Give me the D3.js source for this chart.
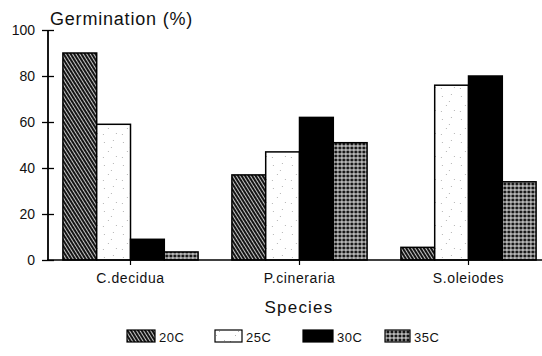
<!DOCTYPE html>
<html><head><meta charset="utf-8">
<script src="https://cdn.jsdelivr.net/npm/d3@7/dist/d3.min.js"></script>
<style>html,body{margin:0;padding:0;background:#fff}svg{display:block}text{font-family:"Liberation Sans",Arial,Helvetica,sans-serif;fill:#111}</style>
</head><body><svg id="c" width="542" height="356"></svg>
<script>
const species = ["C.decidua", "P.cineraria", "S.oleiodes"];
const temps = ["20C", "25C", "30C", "35C"];
const v20 = [90, 37, 5.5];
const v25 = [59, 47, 76];
const v30 = [9, 62, 80];
const v35 = [3.5, 51, 34];
const yTicks = [0, 20, 40, 60, 80, 100];
const series = [v20, v25, v30, v35];

const svg = d3.select("#c");
const defs = svg.append("defs");

// 20C diagonal hatch
const p1 = defs.append("pattern").attr("id","p20").attr("patternUnits","userSpaceOnUse")
  .attr("width",3).attr("height",8).attr("patternTransform","rotate(-32)");
p1.append("rect").attr("width",3).attr("height",8).attr("fill","#151515");
p1.append("rect").attr("x",0).attr("width",0.8).attr("height",8).attr("fill","#f2f2f2");
// 25C stipple
const p2 = defs.append("pattern").attr("id","p25").attr("patternUnits","userSpaceOnUse")
  .attr("width",19).attr("height",23);
p2.append("rect").attr("width",19).attr("height",23).attr("fill","#fff");
[[3,4],[12,2],[7,13],[15,18],[2,19],[10,9]].forEach(d=>p2.append("rect").attr("x",d[0]).attr("y",d[1]).attr("width",1).attr("height",1).attr("fill","#b5b5b5"));
// 35C grid
const p4 = defs.append("pattern").attr("id","p35").attr("patternUnits","userSpaceOnUse")
  .attr("width",4).attr("height",4);
p4.append("rect").attr("width",4).attr("height",4).attr("fill","#151515");
p4.append("rect").attr("x",0).attr("y",1.5).attr("width",4).attr("height",1).attr("fill","#eee");
p4.append("rect").attr("x",1.5).attr("y",0).attr("width",0.9).attr("height",4).attr("fill","#eee");
const fills = ["url(#p20)","url(#p25)","#000","url(#p35)"];

const x = d3.scaleBand().domain(species).range([46, 553]).paddingInner(0.2).paddingOuter(0.1);
const xs = d3.scaleBand().domain(temps).range([0, x.bandwidth()]);
const y = d3.scaleLinear().domain([0,100]).range([260, 30]);

// bars
species.forEach((sp, i) => {
  const g = svg.append("g").attr("transform", `translate(${x(sp)},0)`);
  g.selectAll("rect").data(temps).join("rect")
    .attr("x", t => xs(t))
    .attr("y", (t, j) => y(series[j][i]))
    .attr("width", xs.bandwidth())
    .attr("height", (t, j) => y(0) - y(series[j][i]))
    .attr("fill", (t, j) => fills[j])
    .attr("stroke", "#000").attr("stroke-width", 1.5);
});

// baseline x axis
svg.append("line").attr("x1",47).attr("x2",542).attr("y1",y(0)).attr("y2",y(0)).attr("stroke","#000").attr("stroke-width",1.6);
const xAxis = d3.axisBottom(x).tickSize(5).tickPadding(8);
const gx = svg.append("g").attr("transform",`translate(0,${y(0)})`).call(xAxis);
gx.select(".domain").remove();
gx.selectAll(".tick line").attr("stroke","#000").attr("stroke-width",1.2);
gx.selectAll(".tick text").attr("font-size",14).attr("letter-spacing","0.6px").attr("fill","#111")
  .attr("font-family","'Liberation Sans',Arial,sans-serif");

// y axis
const yAxis = d3.axisLeft(y).tickValues(yTicks).tickSize(6).tickPadding(7);
const gy = svg.append("g").attr("transform","translate(48,0)").call(yAxis);
gy.select(".domain").attr("d", `M0,${y(100)}V${y(0)}`).attr("stroke","#000").attr("stroke-width",1.8);
gy.selectAll(".tick line").attr("x1",-6).attr("x2",6).attr("stroke","#000").attr("stroke-width",1.3);
gy.selectAll(".tick text").attr("font-size",14).attr("fill","#111").attr("font-family","'Liberation Sans',Arial,sans-serif");

// titles
svg.append("text").attr("x",50).attr("y",25).attr("font-size",18).attr("letter-spacing","0.8px").text("Germination (%)");
svg.append("text").attr("x",299).attr("y",313).attr("text-anchor","middle").attr("font-size",17).attr("letter-spacing","1.2px").text("Species");

// legend
const legX = [127, 215, 303, 385];
const legW = [28, 27, 30, 25];
const lg = svg.append("g");
temps.forEach((t, j) => {
  lg.append("rect").attr("x",legX[j]).attr("y",330).attr("width",legW[j]).attr("height",12)
    .attr("fill",fills[j]).attr("stroke","#000").attr("stroke-width",1.2);
  lg.append("text").attr("x",legX[j]+legW[j]+4).attr("y",342).attr("font-size",13).attr("letter-spacing","0.5px").text(t);
});
</script></body></html>
